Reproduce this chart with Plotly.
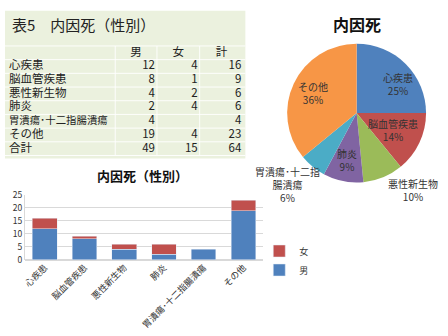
import math
import plotly.graph_objects as go

# ---- data ----
categories = ["心疾患", "脳血管疾患", "悪性新生物", "肺炎", "胃潰瘍･十二指腸潰瘍", "その他"]
male = [12, 8, 4, 2, 4, 19]
female = [4, 1, 2, 4, None, 4]
total = [16, 9, 6, 6, 4, 23]
pie_labels = ["心疾患", "脳血管疾患", "悪性新生物", "肺炎", "胃潰瘍･十二指<br>腸潰瘍", "その他"]
pie_pct = ["25%", "14%", "10%", "9%", "6%", "36%"]
col_headers = ["男", "女", "計"]
total_label = "合計"
total_row = [49, 15, 64]

FONT = "Noto Sans CJK JP"
W, H = 448, 336
BLUE, RED, GREEN, PURPLE, TEAL, ORANGE = "#4f81bd", "#c0504d", "#9bbb59", "#8064a2", "#4bacc6", "#f79646"
BG = "#ebf1de"
TXT = "#222"

def px_x(p):
    return p / W

def px_y(p):
    return 1 - p / H

fig = go.Figure()

# ---- table (drawn on its own pixel-like axes) ----
TW, TH = 245, 160
HEAD_Y, ROW_H = 47.5, 14.2
col_edges = [113, 155, 198, 242]
row_labels = categories + [total_label]
cols = [male + [total_row[0]], female + [total_row[1]], total + [total_row[2]]]
n_rows = len(row_labels)
row_y = [HEAD_Y + ROW_H * (i + 1) for i in range(n_rows)]

# row labels
fig.add_trace(go.Scatter(
    x=[6] * n_rows, y=row_y, text=row_labels, mode="text",
    textposition="middle right", xaxis="x2", yaxis="y2",
    textfont=dict(family=FONT, size=[11.5 if len(s) < 8 else 10.4 for s in row_labels], color=TXT),
    showlegend=False, hoverinfo="skip",
))
# header
fig.add_trace(go.Scatter(
    x=[(col_edges[j] + col_edges[j + 1]) / 2 for j in range(3)], y=[HEAD_Y] * 3,
    text=col_headers, mode="text", textposition="middle center", xaxis="x2", yaxis="y2",
    textfont=dict(family=FONT, size=11.5, color=TXT), showlegend=False, hoverinfo="skip",
))
# numbers
for j, colvals in enumerate(cols):
    fig.add_trace(go.Scatter(
        x=[col_edges[j + 1] - 2] * n_rows, y=row_y,
        text=["" if v is None else str(v) for v in colvals], mode="text",
        textposition="middle left", xaxis="x2", yaxis="y2",
        textfont=dict(family=FONT, size=11.5, color=TXT), showlegend=False, hoverinfo="skip",
    ))

# ---- stacked bar ----
fig.add_trace(go.Bar(x=categories, y=male, name="男", marker_color=BLUE, width=0.62))
fig.add_trace(go.Bar(x=categories, y=female, name="女", marker_color=RED, width=0.62))

# ---- pie ----
PIE_CX, PIE_CY, PIE_R = 356, 110, 72
fig.add_trace(go.Pie(
    labels=pie_labels, values=total, sort=False,
    direction="clockwise", rotation=0, textinfo="none",
    marker=dict(colors=[BLUE, RED, GREEN, PURPLE, TEAL, ORANGE], line=dict(width=0)),
    domain=dict(x=[px_x(PIE_CX - PIE_R), px_x(PIE_CX + PIE_R)],
                y=[px_y(PIE_CY + PIE_R), px_y(PIE_CY - PIE_R)]),
    showlegend=False, hoverinfo="skip",
))

# pie labels placed at each slice's mid-angle (computed from the values)
label_rfrac = [0.72, 0.57, 1.25, 0.69, 1.25, 0.67]
label_nudge = [(5, 6), (0, 0), (22, -3), (0, 0), (-12, 4), (0, 0)]
annotations = []
tot = sum(total)
cum = 0
for i, v in enumerate(total):
    mid = (cum + v / 2) / tot * 2 * math.pi
    cum += v
    r = label_rfrac[i] * PIE_R
    x = PIE_CX + r * math.sin(mid) + label_nudge[i][0]
    y = PIE_CY - r * math.cos(mid) + label_nudge[i][1]
    annotations.append(dict(text=f"{pie_labels[i]}<br>{pie_pct[i]}", x=px_x(x), y=px_y(y),
                            xref="paper", yref="paper", xanchor="center", yanchor="middle",
                            showarrow=False, align="center",
                            font=dict(family=FONT, size=10, color="#333")))

annotations += [
    dict(text="表5　内因死（性別）", x=px_x(7), y=px_y(18), xref="paper", yref="paper",
         xanchor="left", yanchor="middle", showarrow=False,
         font=dict(family=FONT, size=15, color=TXT)),
    dict(text="<b>内因死</b>", x=px_x(356), y=px_y(18), xref="paper", yref="paper",
         xanchor="center", yanchor="middle", showarrow=False,
         font=dict(family=FONT, size=16, color="#111")),
    dict(text="<b>内因死（性別）</b>", x=px_x(140), y=px_y(175), xref="paper", yref="paper",
         xanchor="center", yanchor="middle", showarrow=False,
         font=dict(family=FONT, size=13, color="#111")),
]

# table background and white grid lines
GRID = "rgba(255,255,255,0.9)"
shapes = [dict(type="rect", xref="x2", yref="y2", layer="below",
               x0=2, x1=244, y0=4, y1=157, fillcolor=BG, line=dict(width=0))]
top = HEAD_Y - ROW_H / 2
bottom = row_y[-1] + ROW_H / 2
for k in range(n_rows + 2):
    yy = top + k * ROW_H
    shapes.append(dict(type="line", xref="x2", yref="y2", layer="below",
                       x0=2, x1=244, y0=yy, y1=yy, line=dict(color=GRID, width=1)))
for xx in col_edges[:-1]:
    shapes.append(dict(type="line", xref="x2", yref="y2", layer="below",
                       x0=xx, x1=xx, y0=top, y1=bottom, line=dict(color=GRID, width=1)))

fig.update_layout(
    width=W, height=H,
    margin=dict(l=0, r=0, t=0, b=0),
    paper_bgcolor="white", plot_bgcolor="rgba(0,0,0,0)",
    barmode="stack",
    font=dict(family=FONT, color="#333"),
    xaxis=dict(domain=[px_x(22), px_x(262)], tickangle=-45,
               tickfont=dict(family=FONT, size=9, color="#333"),
               showgrid=False, showline=False, ticks=""),
    yaxis=dict(domain=[px_y(262), px_y(195)], range=[0, 25], dtick=5,
               tickfont=dict(family=FONT, size=8.5, color="#333"),
               showgrid=True, gridcolor="#d9d9d9", gridwidth=1,
               zeroline=True, zerolinecolor="#d9d9d9",
               showline=True, linecolor="#d9d9d9", ticks=""),
    xaxis2=dict(domain=[0, px_x(TW)], range=[0, TW], visible=False, anchor="y2", fixedrange=True),
    yaxis2=dict(domain=[px_y(TH), 1], range=[TH, 0], visible=False, anchor="x2", fixedrange=True),
    legend=dict(x=px_x(258), y=px_y(238), xanchor="left", yanchor="top",
                traceorder="reversed", font=dict(family=FONT, size=9, color="#333"),
                bgcolor="rgba(0,0,0,0)", itemwidth=30, tracegroupgap=0),
    shapes=shapes,
    annotations=annotations,
)

fig.write_html("out.html")
